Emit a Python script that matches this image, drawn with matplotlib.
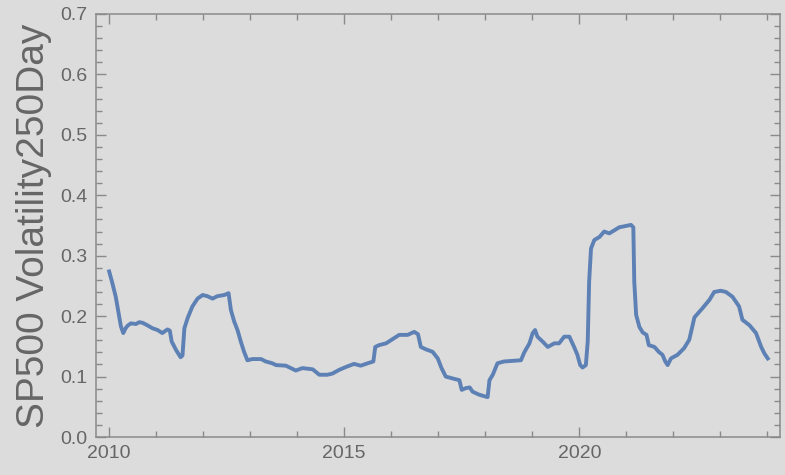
import matplotlib
matplotlib.use("Agg")
import matplotlib.pyplot as plt
from matplotlib.ticker import MultipleLocator

# (decimal year, 250 day volatility)
years = [2010.00, 2010.07, 2010.14, 2010.20, 2010.25, 2010.30, 2010.35, 2010.39, 2010.46, 2010.57,
         2010.64, 2010.71, 2010.81, 2010.92, 2011.03, 2011.13, 2011.24, 2011.29, 2011.33, 2011.43,
         2011.52, 2011.56, 2011.60, 2011.67, 2011.77, 2011.88, 2011.99, 2012.09, 2012.20, 2012.30,
         2012.45, 2012.54, 2012.59, 2012.66, 2012.73, 2012.80, 2012.87, 2012.94, 2013.05, 2013.23,
         2013.33, 2013.47, 2013.55, 2013.76, 2013.97, 2014.11, 2014.33, 2014.47, 2014.64, 2014.75,
         2014.89, 2015.04, 2015.21, 2015.35, 2015.50, 2015.62, 2015.66, 2015.74, 2015.89, 2016.03,
         2016.17, 2016.35, 2016.49, 2016.57, 2016.63, 2016.74, 2016.88, 2016.99, 2017.07, 2017.16,
         2017.30, 2017.45, 2017.50, 2017.59, 2017.67, 2017.73, 2017.87, 2018.05, 2018.09, 2018.16,
         2018.26, 2018.40, 2018.58, 2018.76, 2018.83, 2018.94, 2019.01, 2019.06, 2019.11, 2019.22,
         2019.33, 2019.47, 2019.57, 2019.68, 2019.79, 2019.89, 2019.96, 2020.02, 2020.07, 2020.14,
         2020.18, 2020.21, 2020.25, 2020.32, 2020.43, 2020.53, 2020.64, 2020.85, 2021.10, 2021.15,
         2021.17, 2021.21, 2021.28, 2021.35, 2021.43, 2021.48, 2021.60, 2021.69, 2021.77, 2021.83,
         2021.88, 2021.95, 2022.09, 2022.23, 2022.34, 2022.45, 2022.62, 2022.77, 2022.87, 2023.01,
         2023.12, 2023.26, 2023.40, 2023.47, 2023.62, 2023.76, 2023.87, 2023.94, 2024.01]
vol = [0.274, 0.254, 0.232, 0.205, 0.183, 0.172, 0.180, 0.184, 0.188, 0.187,
       0.190, 0.189, 0.185, 0.180, 0.177, 0.172, 0.178, 0.176, 0.158, 0.143,
       0.132, 0.135, 0.180, 0.197, 0.216, 0.229, 0.235, 0.233, 0.229, 0.233,
       0.235, 0.238, 0.210, 0.191, 0.177, 0.158, 0.141, 0.127, 0.129, 0.129,
       0.125, 0.122, 0.119, 0.118, 0.110, 0.114, 0.112, 0.103, 0.103, 0.105,
       0.111, 0.116, 0.121, 0.118, 0.122, 0.125, 0.149, 0.152, 0.155, 0.162,
       0.169, 0.169, 0.174, 0.170, 0.149, 0.145, 0.141, 0.130, 0.114, 0.100,
       0.097, 0.094, 0.078, 0.081, 0.082, 0.075, 0.070, 0.066, 0.094, 0.103,
       0.122, 0.125, 0.126, 0.127, 0.140, 0.155, 0.172, 0.177, 0.166, 0.158,
       0.149, 0.155, 0.155, 0.166, 0.166, 0.149, 0.136, 0.119, 0.115, 0.119,
       0.158, 0.257, 0.312, 0.326, 0.331, 0.340, 0.337, 0.347, 0.351, 0.347,
       0.257, 0.202, 0.182, 0.173, 0.169, 0.152, 0.149, 0.141, 0.136, 0.125,
       0.119, 0.130, 0.136, 0.147, 0.161, 0.198, 0.213, 0.227, 0.240, 0.242,
       0.240, 0.232, 0.216, 0.194, 0.185, 0.172, 0.149, 0.138, 0.130]

x_major = [2010, 2015, 2020]
y_label = "SP500 Volatility250Day"

bg = "#dcdcdc"
txt = "#666666"
edge = "#8a8a8a"

plt.rcParams['font.family'] = ['Liberation Sans', 'DejaVu Sans']

fig = plt.figure(figsize=(7.85, 4.75), dpi=100, facecolor=bg)
ax = fig.add_axes([96/785, 38/475, 684/785, 423/475])
ax.set_facecolor(bg)

ax.plot(years, vol, color="#5e81b5", lw=2.8, solid_joinstyle="round")

ax.set_xlim(2009.72, 2024.27)
ax.set_ylim(0, 0.7)
ax.set_xticks(x_major)
ax.xaxis.set_minor_locator(MultipleLocator(1))
ax.yaxis.set_major_locator(MultipleLocator(0.1))
ax.yaxis.set_minor_locator(MultipleLocator(0.02))
ax.yaxis.set_major_formatter(plt.FuncFormatter(lambda v, p: "%.1f" % v))

for s in ax.spines.values():
    s.set_color(edge)
    s.set_linewidth(1.1)
ax.tick_params(which="both", direction="in", top=True, right=True, color=edge,
               labelcolor=txt, labelsize=14, width=1)
ax.tick_params(which="major", length=7, pad=6)
ax.tick_params(which="minor", length=4)

ax.set_ylabel(y_label, fontsize=28, color=txt, labelpad=6)

fig.savefig("out.png", dpi=100, facecolor=bg)
